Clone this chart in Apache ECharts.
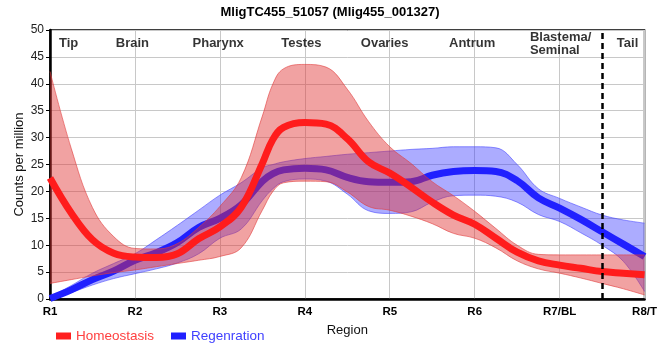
<!DOCTYPE html>
<html>
<head>
<meta charset="utf-8">
<script src="https://cdn.jsdelivr.net/npm/echarts@6/dist/echarts.min.js"></script>
<style>html,body{margin:0;padding:0;background:#fff}#c{width:660px;height:360px}</style>
</head>
<body>
<div id="c"></div>
<script>
// sample positions along the region axis (1 = R1 ... 8 = R8/T)
var xs = [1, 1.25, 1.5, 1.75, 2, 2.25, 2.5, 2.75, 3, 3.25, 3.5, 3.625, 3.75, 4, 4.25, 4.5, 4.75, 5, 5.25, 5.5, 5.75, 6, 6.25, 6.5, 6.75, 7, 7.25, 7.5, 7.75, 8];
var xTickLabels = ['R1', 'R2', 'R3', 'R4', 'R5', 'R6', 'R7/BL', 'R8/T'];
var homeoMean  = [22.5, 16, 11, 8.5, 7.8, 7.7, 8.4, 11.2, 13.4, 17, 25.2, 29.7, 31.9, 32.8, 32.5, 29.8, 25.5, 23.4, 20.8, 18, 15.6, 13.9, 11.3, 8.7, 7.1, 6.3, 5.7, 5.1, 4.8, 4.5];
var homeoUpper = [42.3, 28, 17, 11.6, 9.4, 9.3, 10.3, 13.3, 17.2, 22.5, 34, 40, 42.8, 43.6, 43.1, 39, 33, 28.3, 25.2, 21.8, 19.2, 16.3, 13.1, 10, 8.3, 8.2, 8.2, 8.2, 8.2, 8.2];
var homeoLower = [2.9, 3.6, 4.3, 4.9, 5.4, 6.0, 6.6, 7.2, 7.9, 9.5, 16.5, 20, 21.6, 21.9, 21.8, 19.9, 17.2, 16.5, 15.4, 14, 12.2, 11.3, 9.5, 7.1, 5.6, 4.8, 3.9, 2.9, 1.9, 0.75];
var regenMean  = [0.1, 1.7, 3.6, 5.2, 7.2, 8.6, 10.5, 13.3, 15, 17.5, 21.9, 23.3, 24, 24.3, 24, 22.6, 21.8, 21.7, 21.8, 23, 23.7, 23.9, 23.7, 22, 18.8, 16.9, 14.8, 12.5, 10.2, 7.9];
var regenUpper = [0.4, 2.5, 4.8, 6.6, 8.4, 11, 13.7, 16.5, 19.3, 21.6, 24.4, 25, 25.5, 26.1, 26.5, 26.9, 27.2, 27.5, 27.8, 28, 28.3, 28.3, 28.1, 25, 20.5, 18.7, 17.1, 15.6, 14.7, 14.1];
var regenLower = [0, 1.2, 2.6, 3.8, 4.7, 5.6, 6.7, 8.4, 11.3, 13, 18.3, 20.5, 21.8, 22.3, 21.9, 19.5, 16.4, 15.9, 16.2, 18, 19.2, 19.3, 19.1, 18, 15.7, 14.4, 12.3, 10, 7, 1.4];
var regionNames = ['Tip', 'Brain', 'Pharynx', 'Testes', 'Ovaries', 'Antrum', 'Blastema/\nSeminal', 'Tail'];
var regionPos   = [1.22, 1.97, 2.98, 3.96, 4.94, 5.97, 6.65, 7.8];
var tailBoundary = 7.5;

function pairs(a) { return xs.map(function (x, i) { return [x, a[i]]; }); }
// [y, x] order so that the stacked dimension is the value (y) dimension
function yxPairs(a) { return xs.map(function (x, i) { return [a[i], x]; }); }
function yxDiff(u, l) { return xs.map(function (x, i) { return [+(u[i] - l[i]).toFixed(3), x]; }); }

var chart = echarts.init(document.getElementById('c'), null, { renderer: 'canvas' });
var font = 'Liberation Sans, Arial, sans-serif';

chart.setOption({
  animation: false,
  textStyle: { fontFamily: font },
  title: {
    text: 'MligTC455_51057 (Mlig455_001327)',
    left: 'center', top: 1,
    textStyle: { fontSize: 13, fontWeight: 'bold', color: '#000', fontFamily: font }
  },
  legend: {
    left: 51, top: 324, icon: 'rect', itemWidth: 15, itemHeight: 7, itemGap: 17,
    data: [
      { name: 'Homeostasis', textStyle: { color: '#ff4040' } },
      { name: 'Regenration', textStyle: { color: '#4040ff' } }
    ],
    textStyle: { fontSize: 13.5, fontFamily: font }
  },
  grid: { left: 50, right: 9, top: 30, bottom: 61, show: true, borderColor: '#000', borderWidth: 1.5 },
  xAxis: {
    type: 'value', min: 1, max: 8, interval: 1,
    name: 'Region', nameLocation: 'middle', nameGap: 25, nameMoveOverlap: false,
    nameTextStyle: { color: '#111', fontSize: 13, fontFamily: font },
    axisLine: { show: true, lineStyle: { color: '#000', width: 2.5 } },
    axisTick: { show: false },
    axisLabel: {
      color: '#000', fontWeight: 'bold', fontSize: 11.5, margin: 7, fontFamily: font,
      formatter: function (v) { return xTickLabels[Math.round(v) - 1] || ''; }
    },
    splitLine: { show: true, lineStyle: { color: '#c8c8c8', width: 1 } }
  },
  yAxis: {
    type: 'value', min: 0, max: 50, interval: 5,
    name: 'Counts per million', nameLocation: 'middle', nameGap: 24, nameMoveOverlap: false,
    nameTextStyle: { color: '#111', fontSize: 13, fontFamily: font },
    axisLine: { show: true, lineStyle: { color: '#000', width: 2.5 } },
    axisTick: { show: true, length: 4, lineStyle: { color: '#000', width: 1 } },
    axisLabel: { color: '#222', fontSize: 12, margin: 6, fontFamily: font },
    splitLine: { show: true, lineStyle: { color: '#c8c8c8', width: 1 } }
  },
  series: [
    {
      name: 'regenLower', type: 'line', stack: 'regen', smooth: 0.4, symbol: 'none', z: 2,
      encode: { x: 1, y: 0 },
      data: yxPairs(regenLower),
      lineStyle: { color: 'rgba(60,60,255,0.55)', width: 1 }
    },
    {
      name: 'regenBand', type: 'line', stack: 'regen', smooth: 0.4, symbol: 'none', z: 2,
      encode: { x: 1, y: 0 },
      data: yxDiff(regenUpper, regenLower),
      lineStyle: { color: 'rgba(60,60,255,0.55)', width: 1 },
      areaStyle: { color: 'rgba(48,48,255,0.4)', opacity: 1 }
    },
    {
      name: 'Regenration', type: 'line', smooth: 0.4, symbol: 'none', z: 3,
      data: pairs(regenMean),
      itemStyle: { color: '#2020ff' },
      lineStyle: { color: '#2020ff', width: 7 }
    },
    {
      name: 'homeoLower', type: 'line', stack: 'homeo', smooth: 0.4, symbol: 'none', z: 4,
      encode: { x: 1, y: 0 },
      data: yxPairs(homeoLower),
      lineStyle: { color: 'rgba(225,60,60,0.6)', width: 1 }
    },
    {
      name: 'homeoBand', type: 'line', stack: 'homeo', smooth: 0.4, symbol: 'none', z: 4,
      encode: { x: 1, y: 0 },
      data: yxDiff(homeoUpper, homeoLower),
      lineStyle: { color: 'rgba(225,60,60,0.6)', width: 1 },
      areaStyle: { color: 'rgba(224,48,48,0.45)', opacity: 1 }
    },
    {
      name: 'Homeostasis', type: 'line', smooth: 0.4, symbol: 'none', z: 5,
      data: pairs(homeoMean),
      itemStyle: { color: '#ff2020' },
      lineStyle: { color: '#ff1c1c', width: 7 },
      markLine: {
        silent: true, symbol: 'none', label: { show: false }, z: 6,
        lineStyle: { color: '#000', type: [6, 4], width: 2.5 },
        data: [{ xAxis: tailBoundary }]
      }
    },
    {
      name: 'regions', type: 'scatter', symbolSize: 0, silent: true, z: 7,
      data: regionNames.map(function (n, i) {
        var two = n.indexOf('\n') >= 0;
        return {
          value: [regionPos[i], 47.5],
          label: {
            show: true, formatter: n, position: 'inside',
            align: two ? 'left' : 'center', verticalAlign: 'middle',
            fontWeight: 'bold', fontSize: 13, color: '#000', fontFamily: font, lineHeight: 13
          }
        };
      })
    }
  ]
});
</script>
</body>
</html>
